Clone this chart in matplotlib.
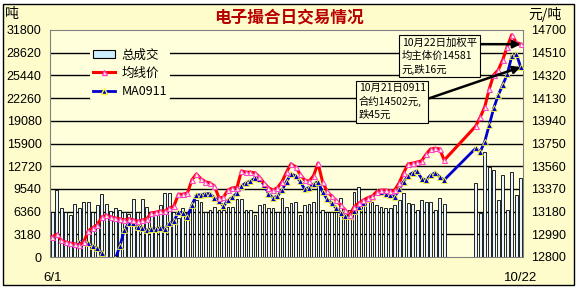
import matplotlib
matplotlib.use('Agg')
import matplotlib.pyplot as plt
from matplotlib.patches import Patch, Rectangle
from matplotlib.lines import Line2D

plt.rcParams['font.family'] = ['Noto Sans CJK SC', 'DejaVu Sans']

# ---------------- data ----------------
title = '电子撮合日交易情况'
x_labels = ['6/1', '10/22']
n_slots = 105                      # category slots on the date axis
pre_days = 88                      # trading days before the holiday gap
post_start = 94                    # first slot after the gap
slots = list(range(0, pre_days)) + list(range(post_start, n_slots))

volume = [
    6300, 9390, 6860, 6300, 5880, 7425, 6860, 7700, 7700, 6300,
    7285, 8830, 7425, 6445, 6860, 6585, 6300, 6020, 8130, 6300,
    8130, 7005, 6020, 5880, 7285, 8970, 8970, 6300, 5460, 6860,
    6300, 7285, 7990, 7700, 6300, 6585, 7005, 6585, 6585, 7005,
    7005, 8130, 8130, 6585, 6585, 5880, 7285, 7425, 6860, 6860,
    6300, 8270, 7005, 7565, 7700, 5880, 7285, 7425, 7700, 10510,
    6585, 6300, 6300, 6300, 8270, 5880, 6585, 9110, 9810, 7565,
    7990, 7700, 7285, 7005, 6860, 6860, 7285, 7990, 8970, 7565,
    7425, 6585, 7990, 7700, 7700, 6585, 8270, 7425,
    10370, 6160, 14710, 12610, 12190, 7985, 11490, 6585, 11910, 8690, 11070,
]

avg_price = [
    12970, 12990, 12940, 12925, 12915, 12910, 12900, 12925, 13020, 13045,
    13070, 13135, 13150, 13135, 13125, 13120, 13110, 13120, 13110, 13100,
    13110, 13120, 13170, 13175, 13185, 13185, 13210, 13225, 13325, 13325,
    13335, 13445, 13495, 13455, 13430, 13420, 13395, 13295, 13300, 13360,
    13380, 13380, 13520, 13510, 13510, 13505, 13470, 13420, 13380, 13360,
    13380, 13430, 13510, 13580, 13555, 13495, 13445, 13435, 13480, 13585,
    13430, 13350, 13310, 13275, 13235, 13195, 13150, 13220, 13250, 13275,
    13295, 13310, 13345, 13360, 13360, 13350, 13360, 13420, 13505, 13580,
    13585, 13595, 13605, 13660, 13705, 13710, 13705, 13610,
    13895, 13970, 14055, 14205, 14325, 14365, 14450, 14560, 14660, 14597, 14581,
]

ma0911 = [None] * 6 + [
    12925, 12940, 12915, 12890, 12875, 12835, 12760, 12735, 12785, 12890,
    13025, 13085, 13085, 13050, 13045, 13025, 13035, 13035, 13045, 13035,
    13085, 13100, 13175, 13170, 13135, 13235, 13320, 13320, 13330, 13330,
    13295, 13270, 13225, 13275, 13300, 13335, 13395, 13420, 13435, 13460,
    13455, 13405, 13330, 13295, 13310, 13360, 13430, 13495, 13480, 13435,
    13370, 13380, 13410, 13430, 13345, 13285, 13250, 13210, 13170, 13145,
    13145, 13185, 13220, 13250, 13285, 13300, 13345, 13345, 13330, 13320,
    13300, 13370, 13430, 13480, 13505, 13520, 13455, 13445, 13485, 13505,
    13470, 13445,
    13710, 13680, 13765, 13905, 14045, 14155, 14240, 14330, 14480, 14500, 14390,
]

vol_ticks = [0, 3180, 6360, 9540, 12720, 15900, 19080, 22260, 25440, 28620, 31800]
price_ticks = [12800, 12990, 13180, 13370, 13560, 13750, 13940, 14130, 14320, 14510, 14700]

legend_labels = ['总成交', '均线价', 'MA0911']
note1 = '10月22日加权平\n均主体价14581\n元,跌16元'
note2 = '10月21日0911\n合约14502元,\n跌45元'

# ---------------- figure ----------------
W, H = 577, 288
fig = plt.figure(figsize=(W / 100, H / 100), dpi=100, facecolor='white')
fig.patches.append(Rectangle((3 / W, 3 / H), 571 / W, 281 / H, transform=fig.transFigure,
                             facecolor='#FFFCCC', edgecolor='black', linewidth=1.0, zorder=-10))

ax = fig.add_axes([50 / W, (H - 257) / H, 473 / W, 227 / H])
ax.set_facecolor('#FFFFDC')
ax.set_xlim(-0.5, n_slots - 0.5)
ax.set_ylim(vol_ticks[0], vol_ticks[-1])
ax.set_yticks(vol_ticks)
ax.set_yticklabels([str(v) for v in vol_ticks], family='Liberation Sans', fontsize=9)
ax.tick_params(axis='y', length=0, pad=6)
for v in vol_ticks[1:-1]:
    ax.axhline(v, color='black', lw=1.0, zorder=1)

ax.bar(slots, volume, width=0.62, color='#E8F7FF', edgecolor='black', linewidth=0.6, zorder=2)

ax.set_xticks([slots[0], slots[-1]])
ax.set_xticklabels(x_labels, family='Liberation Sans', fontsize=9.5)
ax.tick_params(axis='x', length=0, pad=11)
for s in ax.spines.values():
    s.set_color('#808080')
    s.set_linewidth(0.8)

ax2 = ax.twinx()
ax2.set_ylim(price_ticks[0], price_ticks[-1])
ax2.set_yticks(price_ticks)
ax2.set_yticklabels([str(v) for v in price_ticks], family='Liberation Sans', fontsize=9)
ax2.tick_params(axis='y', length=0, pad=6)
for s in ax2.spines.values():
    s.set_visible(False)

ma_x = [s for s, v in zip(slots, ma0911) if v is not None]
ma_y = [v for v in ma0911 if v is not None]

ax2.plot(slots, avg_price, color='#FF0000', lw=2.2, marker='^', ms=3.6,
         mfc='#FFFFCC', mec='#FF44CC', mew=0.8, zorder=4)
ax2.plot(ma_x, ma_y, color='#0000CC', lw=2.0, marker='^', ms=3.8,
         mfc='#0000CC', mec='#FFFF33', mew=0.6, zorder=3)

handles = [
    Patch(facecolor='#CCEEFF', edgecolor='black', linewidth=0.8),
    Line2D([], [], color='#FF0000', lw=2.2, marker='^', ms=3.6, mfc='#FFFFCC', mec='#FF44CC'),
    Line2D([], [], color='#0000CC', lw=2.0, marker='^', ms=3.8, mfc='#0000CC', mec='#FFFF33'),
]
leg = ax2.legend(handles, legend_labels, loc='upper left', bbox_to_anchor=(0.085, 0.93),
                 frameon=True, facecolor='#FFFFDC', edgecolor='none', framealpha=1,
                 fontsize=9, handlelength=1.8, handletextpad=0.5, labelspacing=0.42,
                 borderpad=0.2, borderaxespad=0)
leg.set_zorder(10)

box = dict(boxstyle='square,pad=0.25', facecolor='#FFFFDC', edgecolor='black', linewidth=0.8)
ax2.annotate(note1, xy=(slots[-1], avg_price[-1]), xycoords='data',
             xytext=(0.744, 0.965), textcoords='axes fraction', ha='left', va='top',
             fontsize=7.5, linespacing=1.3, bbox=box, zorder=12,
             arrowprops=dict(arrowstyle='-|>', color='black', lw=1.8, mutation_scale=11,
                             relpos=(1.0, 0.83), shrinkA=0, shrinkB=0))
ax2.annotate(note2, xy=(slots[-1], ma0911[-1]), xycoords='data',
             xytext=(0.653, 0.765), textcoords='axes fraction', ha='left', va='top',
             fontsize=7.5, linespacing=1.3, bbox=box, zorder=12,
             arrowprops=dict(arrowstyle='-|>', color='black', lw=1.8, mutation_scale=11,
                             relpos=(1.0, 0.56), shrinkA=0, shrinkB=0))

fig.text(289 / W, 1 - 17 / H, title, ha='center', va='center', fontsize=12,
         fontweight='bold', color='#B80000')
fig.text(5 / W, 1 - 14 / H, '吨', ha='left', va='center', fontsize=10)
fig.text(528 / W, 1 - 14 / H, '元/吨', ha='left', va='center', fontsize=10)

fig.savefig('out.png', dpi=100, facecolor=fig.get_facecolor())
